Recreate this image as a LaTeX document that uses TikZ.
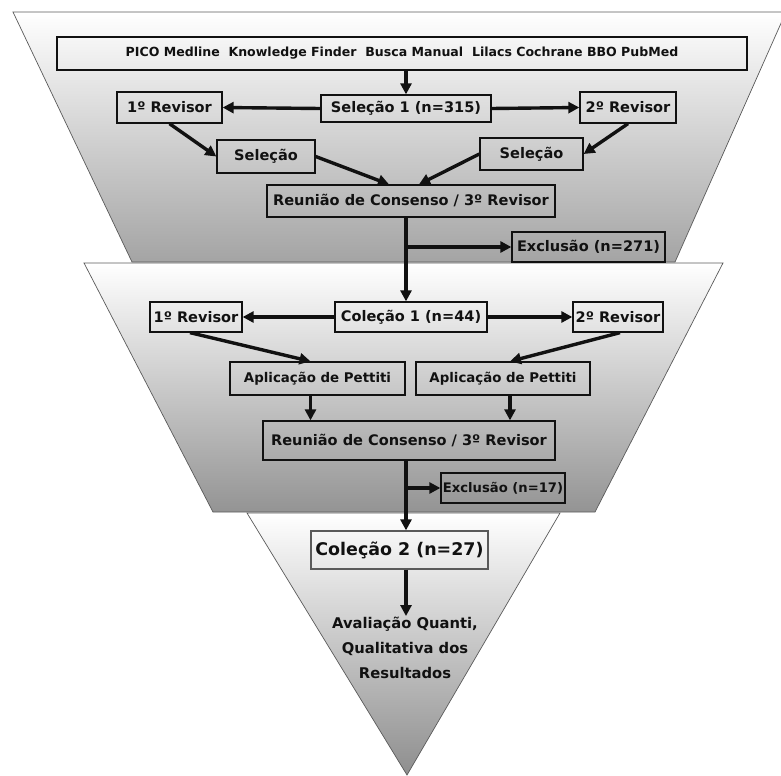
\documentclass[tikz,border=0pt]{standalone}
\usepackage{fontspec}
\setmainfont{DejaVu Sans}
\usetikzlibrary{arrows.meta, positioning}
\definecolor{Edge}{HTML}{5A5A5A}
\definecolor{Ink}{HTML}{111111}
\definecolor{BandLow}{HTML}{A4A4A4}
\definecolor{TipLow}{HTML}{8E8E8E}

\begin{document}
\begin{tikzpicture}[x=1bp,y=-1bp,font=\bfseries\fontsize{14.6}{17}\selectfont,stagebox/.style={draw=Ink, line width=1.3bp, inner sep=0pt, text=Ink},flow/.style={-{Triangle[length=11bp,width=11bp]}, line width=3.4bp, draw=Ink},band/.style={draw=Edge, line width=0.7bp}]
\useasboundingbox (0,0) rectangle (781,776);
% funnel bands
\shade[band, top color=white, bottom color=BandLow] (13,12) -- (786,12) -- (675,262) -- (132,262) -- cycle;
\shade[band, top color=white, bottom color=BandLow!90!black] (84,263) -- (723,263) -- (595,512) -- (213,512) -- cycle;
\shade[band, top color=white, bottom color=TipLow] (247,513) -- (560,513) -- (407,775) -- cycle;
\coordinate (axis) at (406,0);
% first stage
\node[stagebox, minimum width=690bp, minimum height=33bp, font=\bfseries\fontsize{12.6}{15}\selectfont] (fontes) at (402,53.5) {PICO Medline\ \ Knowledge Finder\ \ Busca Manual\ \ Lilacs Cochrane BBO PubMed};
\node[stagebox, minimum width=170bp, minimum height=27bp] (sel1) at (406,108.5) {Seleção 1 (n=315)};
\node[stagebox, minimum width=105bp, minimum height=31bp] (rev1a) at (169.5,107.5) {1º Revisor};
\node[stagebox, minimum width=96bp, minimum height=31bp] (rev2a) at (628,107.5) {2º Revisor};
\node[stagebox, minimum width=98bp, minimum height=33bp] (selA) at (266,156.5) {Seleção};
\node[stagebox, minimum width=103bp, minimum height=32bp] (selB) at (531.5,154) {Seleção};
\node[stagebox, minimum width=288bp, minimum height=32bp] (reun1) at (411,201) {Reunião de Consenso / 3º Revisor};
\node[stagebox, minimum width=153bp, minimum height=30bp] (exc1) at (588.5,247) {Exclusão (n=271)};
\draw[flow] (fontes.south -| axis) -- (sel1.north -| axis);
\draw[flow] (sel1.west) -- (rev1a.east);
\draw[flow] (sel1.east) -- (rev2a.west);
\draw[flow] (rev1a.south) -- (selA.west);
\draw[flow] (rev2a.south) -- (selB.east);
\draw[flow] (selA.east) -- ([xshift=-22bp]reun1.north);
\draw[flow] (selB.west) -- ([xshift=8bp]reun1.north);
% second stage
\node[stagebox, minimum width=152bp, minimum height=30bp] (col1) at (411,317) {Coleção 1 (n=44)};
\node[stagebox, minimum width=92bp, minimum height=30bp] (rev1b) at (196,317) {1º Revisor};
\node[stagebox, minimum width=90bp, minimum height=30bp] (rev2b) at (618,317) {2º Revisor};
\node[stagebox, minimum width=175bp, minimum height=33bp, font=\bfseries\fontsize{13.4}{16}\selectfont] (aplA) at (317.5,378.5) {Aplicação de Pettiti};
\node[stagebox, minimum width=174bp, minimum height=33bp, font=\bfseries\fontsize{13.4}{16}\selectfont] (aplB) at (503,378.5) {Aplicação de Pettiti};
\node[stagebox, minimum width=292bp, minimum height=39bp] (reun2) at (409,440.5) {Reunião de Consenso / 3º Revisor};
\node[stagebox, minimum width=124bp, minimum height=30bp, font=\bfseries\fontsize{13.2}{16}\selectfont] (exc2) at (503,488) {Exclusão (n=17)};
\draw[flow] (reun1.south -| axis) -- (col1.north -| axis);
\draw[flow] (exc1.west -| axis) -- (exc1.west);
\draw[flow] (col1.west) -- (rev1b.east);
\draw[flow] (col1.east) -- (rev2b.west);
\draw[flow] ([xshift=-6bp]rev1b.south) -- ([xshift=-7bp]aplA.north);
\draw[flow] ([xshift=2bp]rev2b.south) -- ([xshift=7bp]aplB.north);
\draw[flow] ([xshift=-7bp]aplA.south) -- ([xshift=-7bp]aplA.south |- reun2.north);
\draw[flow] ([xshift=7bp]aplB.south) -- ([xshift=7bp]aplB.south |- reun2.north);
% third stage
\node[stagebox, draw=Edge, minimum width=177bp, minimum height=38bp, font=\bfseries\fontsize{17.5}{20}\selectfont] (col2) at (399.5,550) {Coleção 2 (n=27)};
\node[text=Ink, align=center, inner sep=1bp, font=\bfseries\fontsize{14.8}{25}\selectfont] (aval) at (405,648) {Avaliação Quanti,\\Qualitativa dos\\Resultados};
\draw[flow] (reun2.south -| axis) -- (col2.north -| axis);
\draw[flow] (exc2.west -| axis) -- (exc2.west);
\draw[flow] (col2.south -| axis) -- (aval.north -| axis);
\end{tikzpicture}
\end{document}
